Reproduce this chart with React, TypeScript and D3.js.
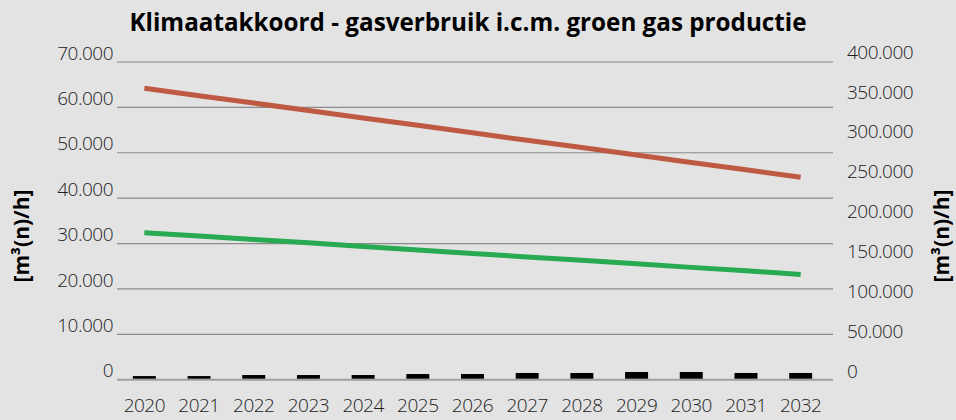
import React from "react";
import * as d3 from "d3";

const years = ["2020","2021","2022","2023","2024","2025","2026","2027","2028","2029","2030","2031","2032"];
const gasverbruik = [64200, 62550, 60950, 59300, 57650, 56050, 54400, 52750, 51150, 49500, 47850, 46250, 44600];
const gasverbruikKlimaat = [32400, 31650, 30900, 30150, 29350, 28600, 27800, 27050, 26300, 25550, 24750, 24000, 23200];
const groenGas = [800, 800, 1030, 1030, 1030, 1250, 1250, 1480, 1480, 1700, 1700, 1480, 1480];
const leftTicks = [0, 10000, 20000, 30000, 40000, 50000, 60000, 70000];
const rightTicks = [0, 50000, 100000, 150000, 200000, 250000, 300000, 350000, 400000];

const W = 956, H = 420;
const fmt = (v: number) => d3.format(",")(v).replace(/,/g, ".");

export default function App() {
  const x = d3.scaleBand<string>().domain(years).range([117, 828]).paddingInner(0.58).paddingOuter(0.29);
  const y = d3.scaleLinear().domain([0, 70000]).range([379.7, 62]);
  const yR = d3.scaleLinear().domain([0, 400000]).range([371, 52]);
  const cx = (d: string) => (x(d) as number) + x.bandwidth() / 2;
  const line = d3.line<number>().x((_, i) => cx(years[i])).y((v) => y(v));
  const tickFont = "'Open Sans', sans-serif";
  return (
    <div style={{ position: "fixed", left: 0, top: 0 }}>
      <svg width={W} height={H} style={{ display: "block", background: "#e3e3e3" }}>
        <rect x={0} y={0} width={W} height={H} fill="#e3e3e3" />
        <text x={468} y={31} textAnchor="middle" fontFamily="'Open Sans', sans-serif" fontWeight={700} fontSize={25} fill="#000" textLength={677} lengthAdjust="spacingAndGlyphs">
          Klimaatakkoord - gasverbruik i.c.m. groen gas productie
        </text>
        {leftTicks.map((t) => (
          <g key={"g" + t}>
            <line x1={117} x2={833} y1={y(t)} y2={y(t)} stroke={t === 0 ? "#a0a0a0" : "#8c8c8c"} strokeWidth={t === 0 ? 2 : 1.2} />
            <text x={113} y={y(t) - 9} dy="0.35em" textAnchor="end" fontFamily={tickFont} fontWeight={300} fontSize={19} fill="#222" letterSpacing={-0.5}>
              {fmt(t)}
            </text>
          </g>
        ))}
        {rightTicks.map((t) => (
          <text key={"r" + t} x={847} y={yR(t)} dy="0.35em" textAnchor="start" fontFamily={tickFont} fontWeight={300} fontSize={19} fill="#222" letterSpacing={-0.5}>
            {fmt(t)}
          </text>
        ))}
        {years.map((yr, i) => (
          <rect key={"b" + yr} x={x(yr)} y={y(groenGas[i])} width={x.bandwidth()} height={y(0) - y(groenGas[i]) - 1} fill="#000" />
        ))}
        <path d={line(gasverbruik) || ""} fill="none" stroke="#bd5a41" strokeWidth={5} />
        <path d={line(gasverbruikKlimaat) || ""} fill="none" stroke="#27aa50" strokeWidth={5} />
        {years.map((yr) => (
          <text key={"x" + yr} x={cx(yr)} y={412} textAnchor="middle" fontFamily={tickFont} fontWeight={300} fontSize={19} fill="#222" letterSpacing={-0.5}>
            {yr}
          </text>
        ))}
        <text transform="translate(29,236) rotate(-90)" textAnchor="middle" fontFamily="'Open Sans', sans-serif" fontWeight={700} fontSize={21} fill="#000">
          [m³(n)/h]
        </text>
        <text transform="translate(949,236) rotate(-90)" textAnchor="middle" fontFamily="'Open Sans', sans-serif" fontWeight={700} fontSize={21} fill="#000">
          [m³(n)/h]
        </text>
      </svg>
    </div>
  );
}
